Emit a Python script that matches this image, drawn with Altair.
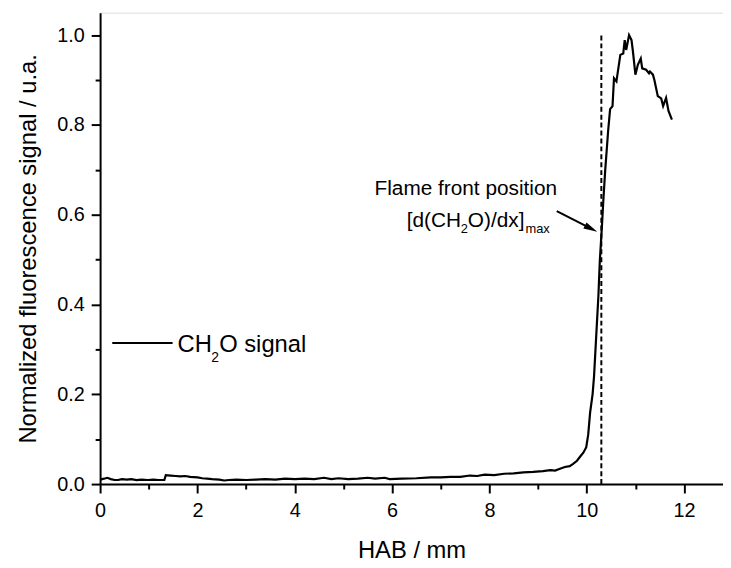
import altair as alt
import pandas as pd

# ---- data ----
hab = [0.00, 0.08, 0.15, 0.22, 0.30, 0.37, 0.45, 0.55, 0.64, 0.75, 0.85, 0.98, 1.10, 1.20, 1.32,
       1.35, 1.45, 1.55, 1.65, 1.75, 1.85, 2.00, 2.10, 2.20, 2.30, 2.45, 2.55, 2.65, 2.80, 3.00,
       3.20, 3.40, 3.60, 3.80, 4.00, 4.20, 4.40, 4.60, 4.75, 4.90, 5.10, 5.30, 5.50, 5.65, 5.85,
       5.95, 6.20, 6.50, 6.80, 7.00, 7.20, 7.40, 7.60, 7.75, 7.90, 8.10, 8.30, 8.50, 8.70, 8.90,
       9.10, 9.25, 9.35, 9.45, 9.55, 9.65, 9.72, 9.80, 9.87, 9.93, 9.99, 10.03, 10.07, 10.12, 10.15,
       10.20, 10.24, 10.27, 10.31, 10.34, 10.38, 10.44, 10.48, 10.53, 10.56, 10.61, 10.69, 10.75,
       10.78, 10.81, 10.87, 10.92, 10.95, 11.00, 11.05, 11.11, 11.14, 11.22, 11.28, 11.30, 11.36,
       11.39, 11.46, 11.53, 11.57, 11.63, 11.68, 11.75]
signal = [0.010, 0.012, 0.014, 0.011, 0.009, 0.009, 0.011, 0.010, 0.011, 0.009, 0.010, 0.009, 0.010, 0.009, 0.009,
          0.020, 0.019, 0.018, 0.017, 0.018, 0.016, 0.015, 0.013, 0.012, 0.011, 0.010, 0.008, 0.009, 0.010, 0.009,
          0.010, 0.011, 0.010, 0.012, 0.011, 0.012, 0.011, 0.014, 0.011, 0.013, 0.011, 0.012, 0.014, 0.012, 0.014,
          0.011, 0.012, 0.013, 0.015, 0.015, 0.016, 0.016, 0.019, 0.018, 0.021, 0.020, 0.023, 0.024, 0.026, 0.027,
          0.029, 0.031, 0.030, 0.034, 0.038, 0.040, 0.045, 0.052, 0.062, 0.070, 0.082, 0.110, 0.160, 0.200, 0.240,
          0.340, 0.420, 0.500, 0.570, 0.630, 0.700, 0.787, 0.835, 0.842, 0.904, 0.897, 0.956, 0.959,
          0.989, 0.967, 1.000, 0.989, 0.963, 0.912, 0.934, 0.948, 0.926, 0.923, 0.915, 0.919, 0.912,
          0.900, 0.864, 0.859, 0.842, 0.860, 0.831, 0.812]

front_x = [10.3]
front_y = [0.0]
front_y2 = [1.0]

x_major = [0, 2, 4, 6, 8, 10, 12]
x_minor = [1, 3, 5, 7, 9, 11]
y_major = [0.0, 0.2, 0.4, 0.6, 0.8, 1.0]
y_minor = [0.1, 0.3, 0.5, 0.7, 0.9]

legend_line_x = [0.25]
legend_line_x2 = [1.49]
legend_line_y = [0.314]
legend_text_y = [0.295]

arrow_x = [9.384]
arrow_y = [0.608]
arrow_x2 = [10.09]
arrow_y2 = [0.569]

ann1_x = [9.39]
ann1_y = [0.643]
ann2_x = [8.72]
ann2_y = [0.573]

FONT = "Liberation Sans"

sx = alt.Scale(domain=[0, 12.8], nice=False, zero=False)
sy = alt.Scale(domain=[0, 1.05], nice=False, zero=False)

curve = pd.DataFrame({"x": hab, "y": signal})

x_axis = alt.Axis(orient="bottom", values=x_major, format="d", tickSize=9, tickWidth=2,
                  tickColor="black", domainColor="black", domainWidth=2,
                  labelFont=FONT, labelFontSize=20, labelColor="black", labelPadding=8,
                  labelFlush=False, labelOverlap=False, grid=False,
                  titleFont=FONT, titleFontSize=24, titleFontWeight="normal",
                  titleColor="black", titlePadding=18)
y_axis = alt.Axis(orient="left", values=y_major, format=".1f", tickSize=9, tickWidth=2,
                  tickColor="black", domainColor="black", domainWidth=2,
                  labelFont=FONT, labelFontSize=20, labelColor="black", labelPadding=7,
                  labelFlush=False, labelOverlap=False, grid=False,
                  titleFont=FONT, titleFontSize=24, titleFontWeight="normal",
                  titleColor="black", titlePadding=16)

line = alt.Chart(curve).mark_line(color="black", strokeWidth=2.2).encode(
    x=alt.X("x:Q", scale=sx, axis=x_axis, title="HAB / mm"),
    y=alt.Y("y:Q", scale=sy, axis=y_axis, title="Normalized fluorescence signal / u.a."),
)

minor = alt.Chart(curve).mark_line(opacity=0).encode(
    x=alt.X("x:Q", scale=sx, title=None,
            axis=alt.Axis(orient="bottom", values=x_minor, labels=False, domain=False,
                          tickSize=5, tickWidth=2, tickColor="black", grid=False)),
    y=alt.Y("y:Q", scale=sy, title=None,
            axis=alt.Axis(orient="left", values=y_minor, labels=False, domain=False,
                          tickSize=5, tickWidth=2, tickColor="black", grid=False)),
)

front = alt.Chart(pd.DataFrame({"x": front_x, "y": front_y, "y2": front_y2})).mark_rule(
    color="black", strokeWidth=2, strokeDash=[5, 3]).encode(
    x=alt.X("x:Q", scale=sx, axis=None),
    y=alt.Y("y:Q", scale=sy, axis=None),
    y2="y2:Q",
)

leg_line = alt.Chart(pd.DataFrame({"x": legend_line_x, "x2": legend_line_x2, "y": legend_line_y})).mark_rule(
    color="black", strokeWidth=2).encode(
    x=alt.X("x:Q", scale=sx, axis=None), x2="x2:Q",
    y=alt.Y("y:Q", scale=sy, axis=None),
)

leg_df = pd.DataFrame({"x": legend_line_x2, "y": legend_text_y})


def txt(df, text, size, dx=0, dy=0, align="left"):
    return alt.Chart(df).mark_text(text=text, font=FONT, fontSize=size, color="black",
                                   align=align, baseline="alphabetic", dx=dx, dy=dy).encode(
        x=alt.X("x:Q", scale=sx, axis=None),
        y=alt.Y("y:Q", scale=sy, axis=None),
    )


leg_ch = txt(leg_df, "CH", 24, dx=5)
leg_2 = txt(leg_df, "2", 14, dx=39, dy=10)
leg_o = txt(leg_df, "O signal", 24, dx=47)

a1 = pd.DataFrame({"x": ann1_x, "y": ann1_y})
a2 = pd.DataFrame({"x": ann2_x, "y": ann2_y})
ann_l1 = txt(a1, "Flame front position", 21, align="right")
ann_a = txt(a2, "O)/dx]", 21, align="right")
ann_b = txt(a2, "2", 13, dx=-57, dy=6, align="right")
ann_c = txt(a2, "[d(CH", 21, dx=-64, align="right")
ann_d = txt(a2, "max", 13, dx=1, dy=6, align="left")

arrow_df = pd.DataFrame({"x": arrow_x, "y": arrow_y, "x2": arrow_x2, "y2": arrow_y2})
arrow_line = alt.Chart(arrow_df).mark_rule(color="black", strokeWidth=2).encode(
    x=alt.X("x:Q", scale=sx, axis=None), x2="x2:Q",
    y=alt.Y("y:Q", scale=sy, axis=None), y2="y2:Q",
)
arrow_head = alt.Chart(arrow_df).mark_point(
    shape="M1,0L-1,-0.5L-1,0.5Z", filled=True, color="black", opacity=1,
    size=196, angle=27).encode(
    x=alt.X("x2:Q", scale=sx, axis=None),
    y=alt.Y("y2:Q", scale=sy, axis=None),
)

chart = alt.layer(
    minor, line, front, leg_line, leg_ch, leg_2, leg_o,
    ann_l1, ann_a, ann_b, ann_c, ann_d, arrow_line, arrow_head,
).resolve_axis(x="independent", y="independent").properties(
    width=629, height=476,
    autosize=alt.AutoSizeParams(type="none"),
    padding={"left": 93, "top": 2, "right": 0, "bottom": 80},
).configure_view(stroke=None).configure(background="white")

chart.save("out.html", embed_options={"renderer": "svg", "actions": False})
